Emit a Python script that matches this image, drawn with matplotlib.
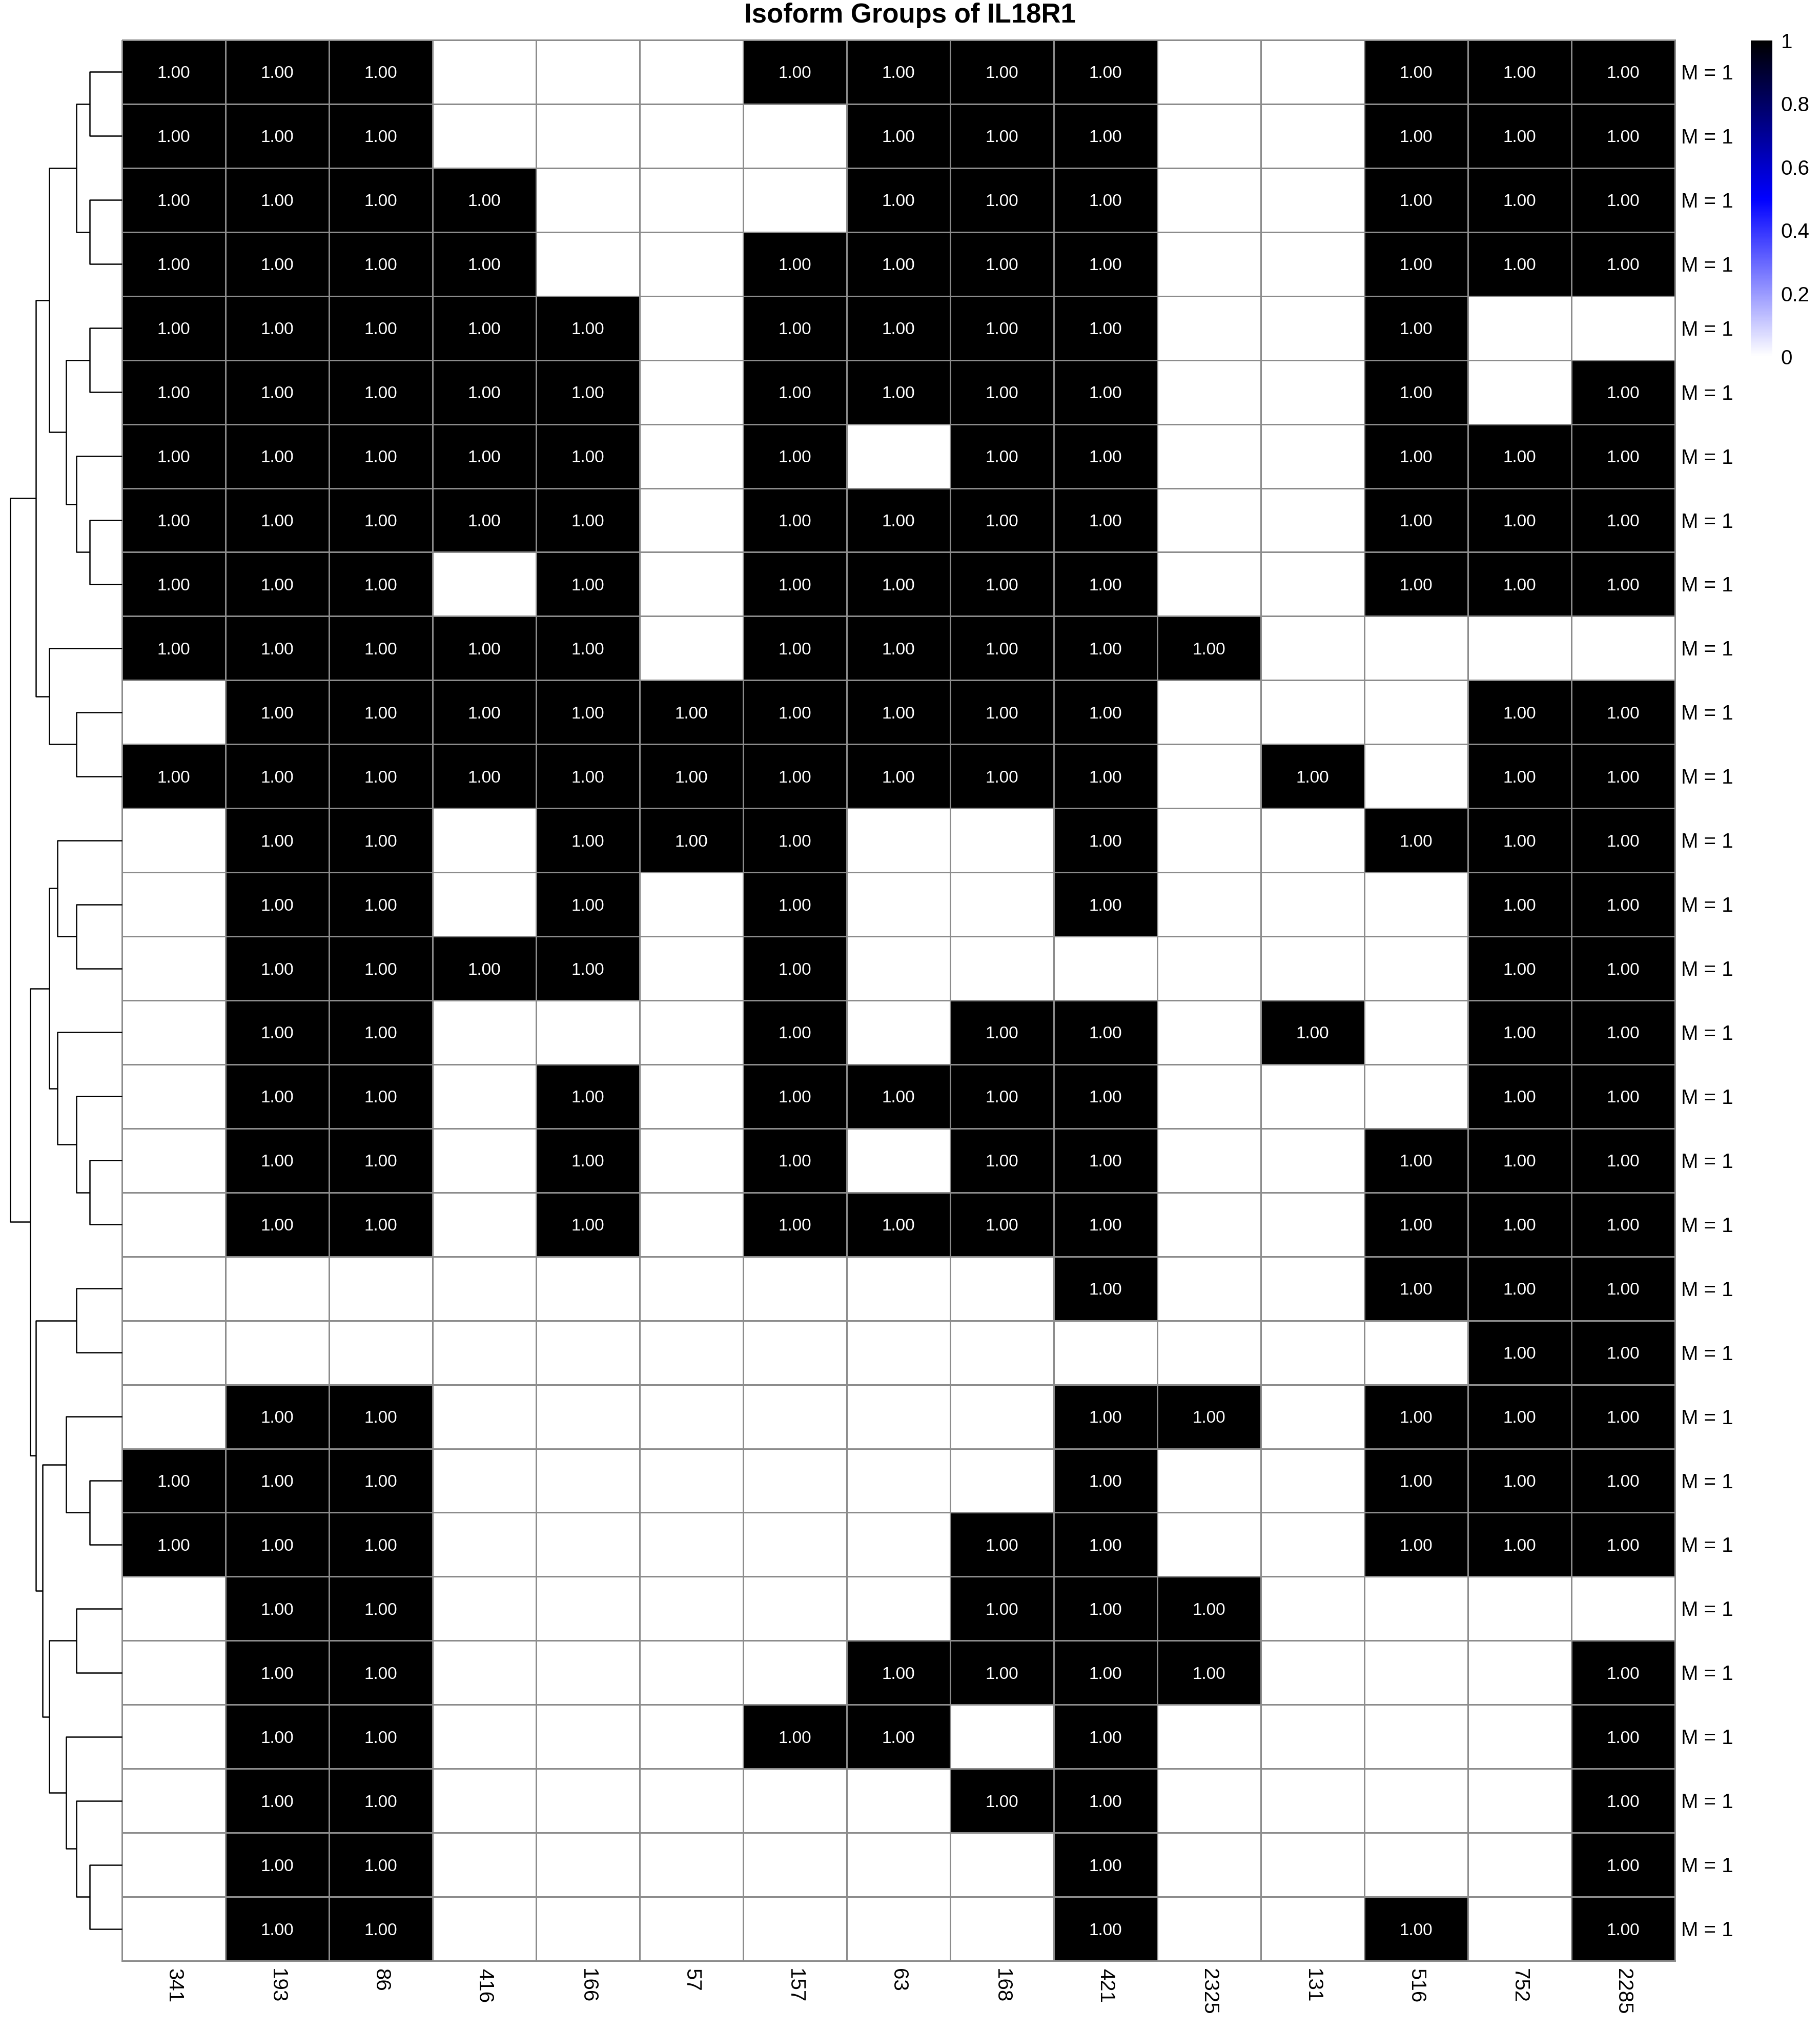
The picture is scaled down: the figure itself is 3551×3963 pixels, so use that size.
import numpy as np
import matplotlib
matplotlib.use('Agg')
import matplotlib.pyplot as plt
from matplotlib.colors import LinearSegmentedColormap
from matplotlib.transforms import ScaledTranslation

plt.rcParams['font.family'] = ['Liberation Sans', 'DejaVu Sans']

title = 'Isoform Groups of IL18R1'
columns = ['341', '193', '86', '416', '166', '57', '157', '63', '168', '421',
           '2325', '131', '516', '752', '2285']
row_labels = ['M = 1'] * 30

values = [
    [1, 1, 1, 0, 0, 0, 1, 1, 1, 1, 0, 0, 1, 1, 1],
    [1, 1, 1, 0, 0, 0, 0, 1, 1, 1, 0, 0, 1, 1, 1],
    [1, 1, 1, 1, 0, 0, 0, 1, 1, 1, 0, 0, 1, 1, 1],
    [1, 1, 1, 1, 0, 0, 1, 1, 1, 1, 0, 0, 1, 1, 1],
    [1, 1, 1, 1, 1, 0, 1, 1, 1, 1, 0, 0, 1, 0, 0],
    [1, 1, 1, 1, 1, 0, 1, 1, 1, 1, 0, 0, 1, 0, 1],
    [1, 1, 1, 1, 1, 0, 1, 0, 1, 1, 0, 0, 1, 1, 1],
    [1, 1, 1, 1, 1, 0, 1, 1, 1, 1, 0, 0, 1, 1, 1],
    [1, 1, 1, 0, 1, 0, 1, 1, 1, 1, 0, 0, 1, 1, 1],
    [1, 1, 1, 1, 1, 0, 1, 1, 1, 1, 1, 0, 0, 0, 0],
    [0, 1, 1, 1, 1, 1, 1, 1, 1, 1, 0, 0, 0, 1, 1],
    [1, 1, 1, 1, 1, 1, 1, 1, 1, 1, 0, 1, 0, 1, 1],
    [0, 1, 1, 0, 1, 1, 1, 0, 0, 1, 0, 0, 1, 1, 1],
    [0, 1, 1, 0, 1, 0, 1, 0, 0, 1, 0, 0, 0, 1, 1],
    [0, 1, 1, 1, 1, 0, 1, 0, 0, 0, 0, 0, 0, 1, 1],
    [0, 1, 1, 0, 0, 0, 1, 0, 1, 1, 0, 1, 0, 1, 1],
    [0, 1, 1, 0, 1, 0, 1, 1, 1, 1, 0, 0, 0, 1, 1],
    [0, 1, 1, 0, 1, 0, 1, 0, 1, 1, 0, 0, 1, 1, 1],
    [0, 1, 1, 0, 1, 0, 1, 1, 1, 1, 0, 0, 1, 1, 1],
    [0, 0, 0, 0, 0, 0, 0, 0, 0, 1, 0, 0, 1, 1, 1],
    [0, 0, 0, 0, 0, 0, 0, 0, 0, 0, 0, 0, 0, 1, 1],
    [0, 1, 1, 0, 0, 0, 0, 0, 0, 1, 1, 0, 1, 1, 1],
    [1, 1, 1, 0, 0, 0, 0, 0, 0, 1, 0, 0, 1, 1, 1],
    [1, 1, 1, 0, 0, 0, 0, 0, 1, 1, 0, 0, 1, 1, 1],
    [0, 1, 1, 0, 0, 0, 0, 0, 1, 1, 1, 0, 0, 0, 0],
    [0, 1, 1, 0, 0, 0, 0, 1, 1, 1, 1, 0, 0, 0, 1],
    [0, 1, 1, 0, 0, 0, 1, 1, 0, 1, 0, 0, 0, 0, 1],
    [0, 1, 1, 0, 0, 0, 0, 0, 1, 1, 0, 0, 0, 0, 1],
    [0, 1, 1, 0, 0, 0, 0, 0, 0, 1, 0, 0, 0, 0, 1],
    [0, 1, 1, 0, 0, 0, 0, 0, 0, 1, 0, 0, 1, 0, 1],
]

# linkage-like merges: (cluster a, cluster b, height); leaves 0..29, new ids from 30
merges = [
    (0, 1, 0.29), (2, 3, 0.29), (30, 31, 0.41),
    (4, 5, 0.29), (7, 8, 0.29), (6, 34, 0.41), (33, 35, 0.50),
    (32, 36, 0.65),
    (10, 11, 0.41), (9, 38, 0.65), (37, 39, 0.77),
    (13, 14, 0.41), (12, 41, 0.58),
    (17, 18, 0.29), (16, 43, 0.41), (15, 44, 0.58), (42, 45, 0.65),
    (19, 20, 0.41),
    (22, 23, 0.29), (21, 48, 0.50),
    (24, 25, 0.41),
    (28, 29, 0.29), (27, 51, 0.41), (26, 52, 0.50), (50, 53, 0.65),
    (49, 54, 0.71), (47, 55, 0.77), (46, 56, 0.82),
    (40, 57, 1.00),
]

cbar_ticks = [0, 0.2, 0.4, 0.6, 0.8, 1]
cbar_ticklabels = ['0', '0.2', '0.4', '0.6', '0.8', '1']

W, H = 3551, 3963
fig = plt.figure(figsize=(W / 100, H / 100), dpi=100)

hm_l, hm_r, hm_t, hm_b = 238, 3268, 78, 3826
data = np.array(values, dtype=float)
nrow, ncol = data.shape

ax = fig.add_axes([hm_l / W, 1 - hm_b / H, (hm_r - hm_l) / W, (hm_b - hm_t) / H])
cmap = LinearSegmentedColormap.from_list('wbk', ['#ffffff', '#0000ff', '#000000'], N=256)
grid_col = '#8c8c8c'
mesh = ax.pcolormesh(np.arange(ncol + 1), np.arange(nrow + 1), data, cmap=cmap,
                     vmin=0, vmax=1, edgecolors=grid_col, linewidth=2.0)
mesh.set_clip_on(False)
ax.set_xlim(0, ncol)
ax.set_ylim(nrow, 0)
for s in ax.spines.values():
    s.set_visible(False)

cell_fs = 24
cell_shift = ScaledTranslation(0, -0.36 * cell_fs / 72, fig.dpi_scale_trans)
for i in range(nrow):
    for j in range(ncol):
        if data[i, j] > 0:
            ax.text(j + 0.5, i + 0.5, f'{data[i, j]:.2f}', color='white',
                    ha='center', va='baseline', fontsize=cell_fs,
                    transform=ax.transData + cell_shift)

lab_fs = 29
ax.set_xticks(np.arange(ncol) + 0.5)
ax.set_xticklabels(columns, rotation=270, fontsize=lab_fs, ha='center', va='top')
ax.set_yticks(np.arange(nrow) + 0.5)
ax.set_yticklabels(row_labels, fontsize=lab_fs)
ax.yaxis.tick_right()
ax.tick_params(axis='both', length=0)
ax.tick_params(axis='x', pad=11)
ax.tick_params(axis='y', pad=9)
row_shift = ScaledTranslation(0, -0.36 * lab_fs / 72, fig.dpi_scale_trans)
for lab in ax.get_yticklabels(which='both'):
    lab.set_va('baseline')
    lab.set_transform(lab.get_transform() + row_shift)

# dendrogram
dax = fig.add_axes([20 / W, 1 - hm_b / H, (hm_l - 20) / W, (hm_b - hm_t) / H])
dax.set_xlim(1.0, 0.0)
dax.set_ylim(nrow, 0)
dax.axis('off')
pos = {i: (i + 0.5, 0.0) for i in range(nrow)}
for k, (a, b, h) in enumerate(merges):
    ya, ha = pos[a]
    yb, hb = pos[b]
    dax.plot([ha, h, h, hb], [ya, ya, yb, yb], color='black', lw=1.8,
             solid_capstyle='butt', clip_on=False)
    pos[nrow + k] = ((ya + yb) / 2, h)

# colorbar
cax = fig.add_axes([3416 / W, 1 - 696 / H, 42 / W, (696 - 79) / H])
cb = fig.colorbar(mesh, cax=cax, ticks=cbar_ticks)
cb.set_ticklabels(cbar_ticklabels)
cb.outline.set_visible(False)
cax.tick_params(length=0, labelsize=lab_fs, pad=12)

fig.text(0.5, 1 - 30 / H, title, ha='center', va='center', fontsize=38,
         fontweight='bold')

fig.savefig('out.png', dpi=100)
